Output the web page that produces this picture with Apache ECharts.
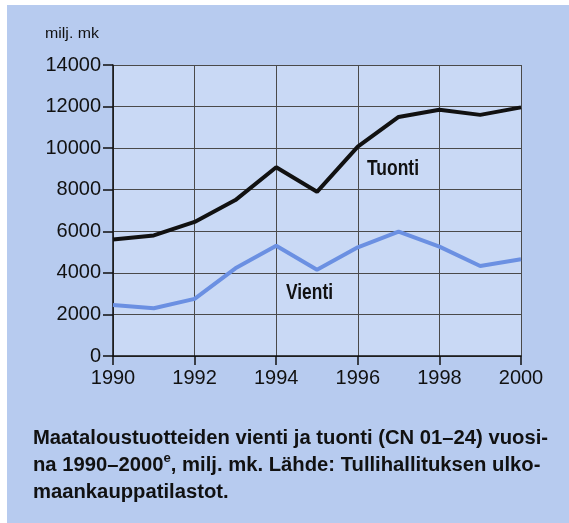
<!DOCTYPE html>
<html>
<head>
<meta charset="utf-8">
<script src="https://cdn.jsdelivr.net/npm/echarts@6/dist/echarts.min.js"></script>
<style>
  html, body { margin: 0; padding: 0; background: #ffffff; }
  #chart { width: 569px; height: 523px; }
</style>
</head>
<body>
<div id="chart"></div>
<script>
// vuodet ja arvot (milj. mk)
const years = [1990, 1991, 1992, 1993, 1994, 1995, 1996, 1997, 1998, 1999, 2000];
const tuonti = [5600, 5800, 6450, 7500, 9080, 7900, 10070, 11500, 11850, 11600, 11960];
const vienti = [2450, 2300, 2750, 4220, 5300, 4150, 5230, 5980, 5260, 4330, 4650];

const captionLines = [
    'Maataloustuotteiden vienti ja tuonti (CN 01–24) vuosi-',
    'na 1990–2000{sup|e}, milj. mk. Lähde: Tullihallituksen ulko-',
    'maankauppatilastot.',
];

const chart = echarts.init(document.getElementById('chart'));

const toPairs = (vals) => years.map((y, i) => [y, vals[i]]);

// kapea fontti puuttuu -> puristetaan tekstiä vaakasuunnassa
const ctx = document.createElement('canvas').getContext('2d');
function squeeze(text, font, target) {
    ctx.font = font;
    return target / ctx.measureText(text).width;
}
const FONT = 'Liberation Sans';
const capScale = squeeze(captionLines[0], 'bold 20px "' + FONT + '"', 515);

const options = {
    animation: false,
    backgroundColor: '#ffffff',
    grid: {
        left: 113,
        right: 48,
        top: 65,
        bottom: 167,
        show: true,
        backgroundColor: '#c9d9f5',
        borderWidth: 0,
    },
    xAxis: {
        type: 'value',
        min: 1990,
        max: 2000,
        interval: 2,
        axisLine: { show: true, lineStyle: { color: '#111', width: 1.5 } },
        axisTick: { show: true, length: 9, lineStyle: { color: '#111', width: 1.5 } },
        axisLabel: {
            color: '#111',
            fontSize: 20,
            fontFamily: FONT,
            margin: 12,
            formatter: (v) => String(v),
        },
        splitLine: { show: true, lineStyle: { color: '#4a4a4a', width: 1 } },
    },
    yAxis: {
        type: 'value',
        min: 0,
        max: 14000,
        interval: 2000,
        axisLine: { show: true, lineStyle: { color: '#111', width: 1.5 } },
        axisTick: { show: true, length: 10, lineStyle: { color: '#111', width: 1.5 } },
        axisLabel: {
            color: '#111',
            fontSize: 20,
            fontFamily: FONT,
            margin: 12,
            formatter: (v) => String(v),
        },
        splitLine: { show: true, lineStyle: { color: '#4a4a4a', width: 1 } },
    },
    series: [
        {
            name: 'Tuonti',
            type: 'line',
            data: toPairs(tuonti),
            symbol: 'none',
            lineStyle: { color: '#111', width: 4 },
            z: 3,
        },
        {
            name: 'Vienti',
            type: 'line',
            data: toPairs(vienti),
            symbol: 'none',
            lineStyle: { color: '#6b90e2', width: 4 },
            z: 2,
        },
    ],
    graphic: [
        // sininen tausta
        {
            type: 'rect',
            z: -10,
            shape: { x: 7, y: 5, width: 562, height: 518 },
            style: { fill: '#b7cbef' },
        },
        {
            type: 'text',
            x: 45, y: 26,
            scaleX: squeeze('milj. mk', '15px "' + FONT + '"', 54),
            style: { text: 'milj. mk', fontSize: 15, fontFamily: FONT, fill: '#111' },
        },
        {
            type: 'text',
            x: 367, y: 158,
            scaleX: squeeze('Tuonti', 'bold 22px "' + FONT + '"', 52),
            style: { text: 'Tuonti', fontSize: 22, fontWeight: 'bold', fontFamily: FONT, fill: '#111' },
        },
        {
            type: 'text',
            x: 286, y: 282,
            scaleX: squeeze('Vienti', 'bold 22px "' + FONT + '"', 47),
            style: { text: 'Vienti', fontSize: 22, fontWeight: 'bold', fontFamily: FONT, fill: '#111' },
        },
        {
            type: 'text',
            x: 33, y: 425,
            scaleX: capScale,
            style: {
                text: captionLines.join('\n'),
                fontSize: 20,
                fontWeight: 'bold',
                fontFamily: FONT,
                lineHeight: 27,
                fill: '#111',
                rich: {
                    sup: { fontSize: 13, fontWeight: 'bold', fontFamily: FONT, verticalAlign: 'top', lineHeight: 27, padding: [0, 0, 8, 0] },
                },
            },
        },
    ],
};

chart.setOption(options);
</script>
</body>
</html>
